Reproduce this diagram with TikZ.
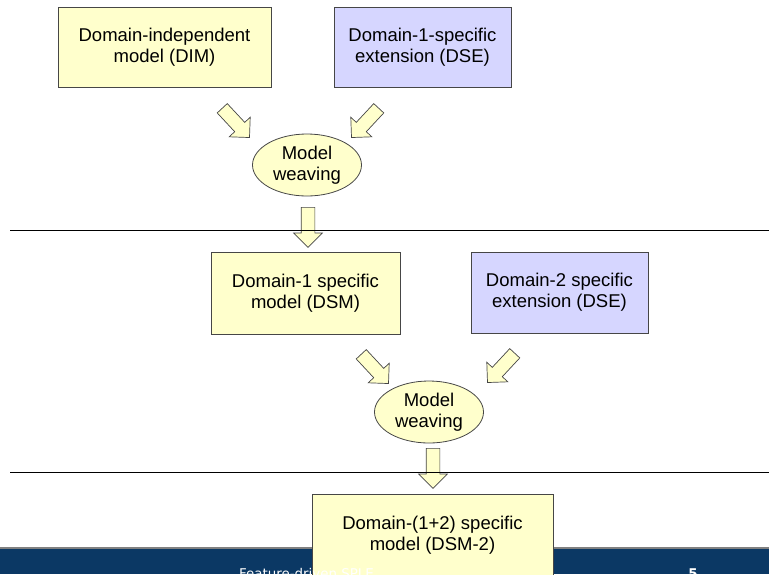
\documentclass[tikz,border=0pt]{standalone}
\usepackage{fontspec}
\setmainfont{Liberation Sans}
\newfontfamily\footfont{DejaVu Sans}
\usetikzlibrary{shapes.geometric,shapes.arrows}
\definecolor{boxyellow}{RGB}{255,255,204}
\definecolor{boxblue}{RGB}{214,214,255}
\definecolor{edgegray}{RGB}{70,70,70}
\definecolor{footblue}{RGB}{11,56,100}
\begin{document}
\begin{tikzpicture}[x=1pt,y=-1pt,font=\fontsize{18.5}{21}\selectfont,
  model/.style={draw=edgegray,line width=1pt,fill=boxyellow,align=center,inner sep=0pt},
  ext/.style={model,fill=boxblue},
  weave/.style={ellipse,draw=edgegray,line width=0.8pt,fill=boxyellow,align=center,inner sep=0pt,minimum width=109pt,minimum height=62pt},
  fat/.style={single arrow,draw=edgegray,line width=0.7pt,fill=boxyellow,sloped,allow upside down,anchor=tail,
    minimum height=40pt,inner sep=6.5pt,single arrow head extend=7.5pt}]
\useasboundingbox (0,0) rectangle (769,574);
\node[model,minimum width=213pt,minimum height=80pt] (dim) at (164.5,47) {Domain-independent\\model (DIM)};
\node[ext,minimum width=177pt,minimum height=80pt] (dse1) at (422.5,47) {Domain-1-specific\\extension (DSE)};
\node[weave] (weave1) at (307,165) {Model\\weaving};
\node[model,minimum width=189pt,minimum height=82pt] (dsm) at (305.5,293) {Domain-1 specific\\model (DSM)};
\node[ext,minimum width=177pt,minimum height=81pt] (dse2) at (559.5,292.5) {Domain-2 specific\\extension (DSE)};
\node[weave] (weave2) at (429,412) {Model\\weaving};
% block arrows
\coordinate (t1) at (222,108); \coordinate (h1) at (249,137);
\coordinate (t2) at (379,108); \coordinate (h2) at (352,137);
\coordinate (t3) at (308,207); \coordinate (h3) at (308,247);
\coordinate (t4) at (361,354); \coordinate (h4) at (388,383);
\coordinate (t5) at (515,353); \coordinate (h5) at (488,382);
\coordinate (t6) at (433,448); \coordinate (h6) at (433,488);
\foreach \i in {1,...,6}
  \path (t\i) -- (h\i) node[fat,pos=0] {};
\draw[line width=1pt] (10,230) -- (769,230);
\draw[line width=1pt] (10,472) -- (769,472);
% footer
\fill[footblue] (0,549) rectangle (769,574);
\draw[gray,line width=1.5pt] (0,548) -- (769,548);
\node[model,minimum width=241pt,minimum height=82pt] (dsm2) at (432.5,535) {Domain-(1+2) specific\\model (DSM-2)};
\node[white,anchor=base west,inner sep=0pt,font=\footfont\fontsize{13.4}{16}\selectfont] (foot) at (239,578) {Feature-driven SPLE};
\node[white,anchor=base,inner sep=0pt,font=\footfont\bfseries\fontsize{13.4}{16}\selectfont] (page) at (693,578) {5};
\end{tikzpicture}
\end{document}
